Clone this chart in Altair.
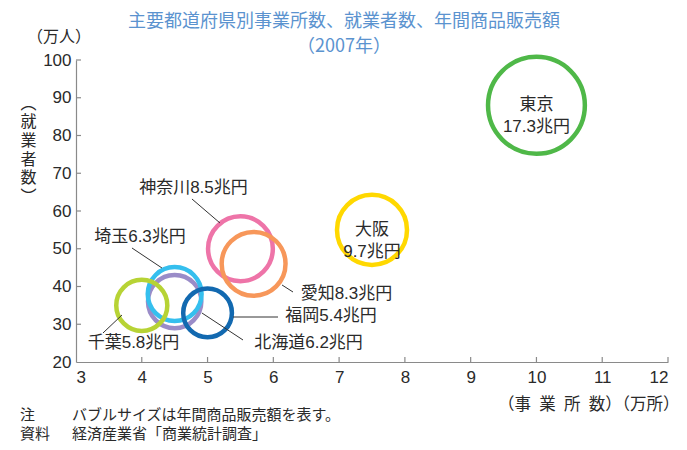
import altair as alt
import pandas as pd

# ---- data ----
prefs = ["北海道", "埼玉", "千葉", "福岡", "神奈川", "愛知", "大阪", "東京"]
offices = [4.5, 4.5, 4.0, 5.0, 5.5, 5.7, 7.5, 10.0]          # 万所
workers = [36, 38, 35, 33, 50, 46, 55, 88]                  # 万人
sales = [6.2, 6.3, 5.8, 5.4, 8.5, 8.3, 9.7, 17.3]           # 兆円
colors = ["#9a8cc8", "#35bfee", "#b7d335", "#1269b0", "#ee74a8", "#f7975a", "#ffd800", "#4fb848"]

label_text = ["北海道6.2兆円", "埼玉6.3兆円", "千葉5.8兆円", "福岡5.4兆円",
              "神奈川8.5兆円", "愛知8.3兆円", "大阪\n9.7兆円", "東京\n17.3兆円"]
label_x = [6.535, 3.973, 3.874, 6.877, 4.786, 7.112, 7.5, 10.0]
label_y = [25.0, 53.1, 25.0, 32.2, 66.1, 38.0, 55.0, 88.0]

# leader lines (data units)
lead_x1 = [4.915, 3.851, 3.410, 5.387, 4.763, 6.132]
lead_y1 = [32.98, 50.2, 27.68, 31.92, 63.18, 40.40]
lead_x2 = [5.539, 4.307, 3.699, 6.071, 5.189, 6.299]
lead_y2 = [25.83, 44.9, 32.45, 31.92, 56.82, 38.54]

x_ticks = [3, 4, 5, 6, 7, 8, 9, 10, 11, 12]
y_ticks = [20, 30, 40, 50, 60, 70, 80, 90, 100]

title_lines = ["主要都道府県別事業所数、就業者数、年間商品販売額", "（2007年）"]
y_unit = "（万人）"
y_title = ["︵", "就", "業", "者", "数", "︶"]
x_title = "（事\u2002業\u2002所\u2002数）（万所）"
notes_head = ["注", "資料"]
notes_body = ["バブルサイズは年間商品販売額を表す。", "経済産業省「商業統計調査」"]

FONT = "Liberation Sans, Noto Sans CJK JP"
JFONT = "Noto Sans CJK JP"
TXT = "#2a2a2a"

bub = pd.DataFrame({"pref": prefs, "x": offices, "y": workers, "s": sales,
                    "ord": list(range(len(prefs)))})
lab = pd.DataFrame({"t": label_text, "x": label_x, "y": label_y})
lead = pd.DataFrame({"x": lead_x1, "y": lead_y1, "x2": lead_x2, "y2": lead_y2})
xt = pd.DataFrame({"x": x_ticks[1:]})
yt = pd.DataFrame({"y": y_ticks[1:]})

xscale = alt.Scale(domain=[3, 12], nice=False, zero=False)
yscale = alt.Scale(domain=[20, 100], nice=False, zero=False)

axis_common = dict(grid=False, ticks=False, domainColor="#8a8a8a", domainWidth=1.2,
                   labelFont="Liberation Sans", labelFontSize=17, labelColor=TXT)
x_axis = alt.Axis(values=x_ticks, labelPadding=7, title=x_title,
                  titleFont=JFONT, titleFontSize=16.5, titleFontWeight="normal",
                  titleColor=TXT, titleAlign="right", titleBaseline="middle",
                  titleX=603, titleY=42, **axis_common)
y_axis = alt.Axis(values=y_ticks, labelPadding=5, title=y_title,
                  titleFont=JFONT, titleFontSize=16, titleFontWeight="normal",
                  titleColor=TXT, titleAngle=0, titleAlign="center",
                  titleBaseline="middle", titleLineHeight=18.7,
                  titleX=-48, titleY=43, **axis_common)
X = alt.X("x:Q", scale=xscale, axis=x_axis)
Y = alt.Y("y:Q", scale=yscale, axis=y_axis)

bubbles = alt.Chart(bub).mark_point(shape="circle", filled=False, strokeWidth=4.5,
                                    opacity=1).encode(
    x=X, y=Y,
    size=alt.Size("s:Q", scale=alt.Scale(domain=[5.4, 17.3], range=[2372, 9376], zero=False),
                  legend=None),
    color=alt.Color("pref:N", scale=alt.Scale(domain=prefs, range=colors), legend=None),
    order=alt.Order("ord:Q"),
)

leaders = alt.Chart(lead).mark_rule(color="#333333", strokeWidth=1).encode(
    x=X, y=Y, x2="x2:Q", y2="y2:Q")

labels = alt.Chart(lab).mark_text(font=FONT, fontSize=17, color=TXT, lineBreak="\n",
                                  lineHeight=22, baseline="middle", align="center").encode(
    x=X, y=Y, text="t:N")

ytick = alt.Chart(yt).mark_rule(color="#8a8a8a", strokeWidth=1.2).encode(
    y=Y, x=alt.value(0), x2=alt.value(5))
xtick = alt.Chart(xt).mark_rule(color="#8a8a8a", strokeWidth=1.2).encode(
    x=X, y=alt.value(302), y2=alt.value(297))

unit = alt.Chart(pd.DataFrame({"t": [y_unit]})).mark_text(
    font=JFONT, fontSize=16, color=TXT, align="center", baseline="middle").encode(
    text="t:N", x=alt.value(-17), y=alt.value(-23))

note_layers = []
for i, (h, b) in enumerate(zip(notes_head, notes_body)):
    d = pd.DataFrame({"h": [h], "b": [b]})
    yy = 354.5 + 19.5 * i
    note_layers.append(alt.Chart(d).mark_text(font=JFONT, fontSize=15, color=TXT, align="left",
                                              baseline="middle").encode(
        text="h:N", x=alt.value(-56), y=alt.value(yy)))
    note_layers.append(alt.Chart(d).mark_text(font=JFONT, fontSize=15, color=TXT, align="left",
                                              baseline="middle").encode(
        text="b:N", x=alt.value(-4), y=alt.value(yy)))

chart = alt.layer(bubbles, leaders, labels, ytick, xtick, unit, *note_layers).properties(
    width=592, height=302,
    padding={"left": 68, "top": 52, "right": 11, "bottom": 80},
    autosize=alt.AutoSizeParams(type="none"),
    title=alt.TitleParams(text=title_lines, anchor="middle", font=JFONT, fontSize=18,
                          fontWeight="normal", color="#5b93cf", lineHeight=25,
                          dx=-28, dy=35, offset=8),
).configure_view(stroke=None)

chart.save("out.html", embed_options={"renderer": "svg", "actions": False})
